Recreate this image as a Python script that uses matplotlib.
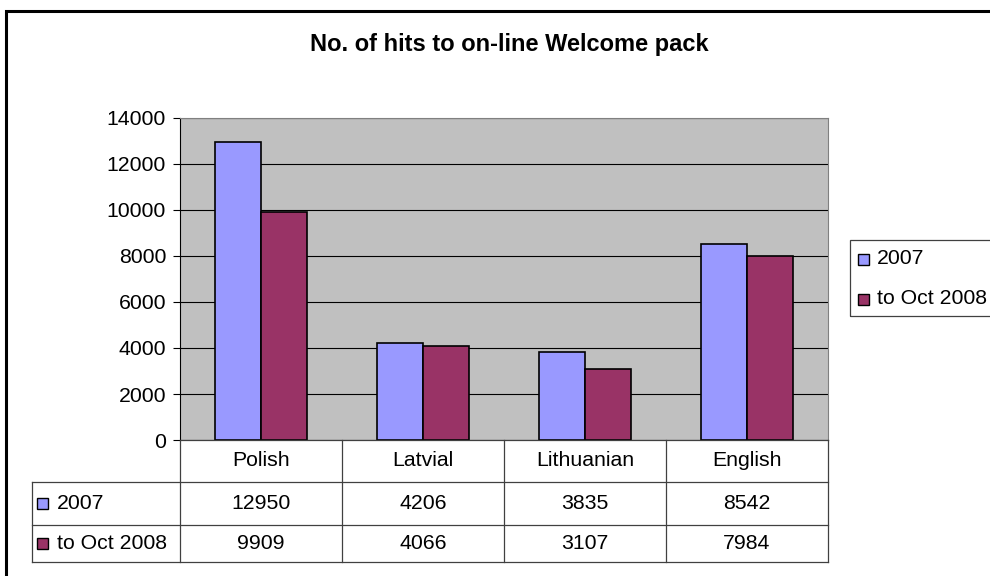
import numpy as np
import matplotlib.pyplot as plt
from matplotlib.patches import Rectangle
from matplotlib.lines import Line2D

plt.rcParams['font.family'] = ['Liberation Sans', 'DejaVu Sans']

categories = ['Polish', 'Latvial', 'Lithuanian', 'English']
series_names = ['2007', 'to Oct 2008']
hits_2007 = [12950, 4206, 3835, 8542]
hits_2008 = [9909, 4066, 3107, 7984]
colors = ['#9999FF', '#993366']

W, H = 990, 576
FS = 15.3


def fx(px):
    return px / W


def fy(py):
    return 1 - py / H


fig = plt.figure(figsize=(9.9, 5.76), dpi=100)

# outer chart frame (cut off at right and bottom like the original)
fig.patches.append(Rectangle((fx(6), fy(600)), fx(1000), fy(11) - fy(600),
                             transform=fig.transFigure, fill=False,
                             edgecolor='black', linewidth=2.2))

fig.text(fx(509), fy(45), 'No. of hits to on-line Welcome pack',
         ha='center', va='center', fontsize=17, fontweight='bold')

# plot area
left, right, top, bottom = 180, 828, 118, 440
ax = fig.add_axes([fx(left), fy(bottom), fx(right - left), fy(top) - fy(bottom)])
ax.set_facecolor('#C0C0C0')

x = np.arange(len(categories))
bw = 0.284
ax.bar(x - bw / 2, hits_2007, bw, color=colors[0], edgecolor='black', linewidth=1.2, zorder=3)
ax.bar(x + bw / 2, hits_2008, bw, color=colors[1], edgecolor='black', linewidth=1.2, zorder=3)

ax.set_xlim(-0.5, len(categories) - 0.5)
ax.set_ylim(0, 14000)
ax.set_yticks(np.arange(0, 14001, 2000))
ax.yaxis.grid(True, color='black', linewidth=0.8, zorder=0)
ax.set_axisbelow(True)
ax.set_xticks([])
ax.tick_params(axis='y', labelsize=FS, length=5, width=0.8, pad=5)
for s in ['top', 'right']:
    ax.spines[s].set_color('#808080')
ax.spines['left'].set_color('black')
ax.spines['bottom'].set_visible(False)

# data table
col_edges = [left + i * (right - left) / len(categories) for i in range(len(categories) + 1)]
row_edges = [440, 482, 525, 562]
tleft = 32
lc = '#404040'
lines = []
for xe in col_edges:
    lines.append(([xe, xe], [row_edges[0], row_edges[-1]]))
lines.append(([tleft, tleft], [row_edges[1], row_edges[-1]]))
lines.append(([left, right], [row_edges[0], row_edges[0]]))
for ye in row_edges[1:]:
    lines.append(([tleft, right], [ye, ye]))
for xs, ys in lines:
    fig.add_artist(Line2D([fx(v) for v in xs], [fy(v) for v in ys],
                          color=lc, linewidth=0.9, transform=fig.transFigure))

for i, cat in enumerate(categories):
    cx = (col_edges[i] + col_edges[i + 1]) / 2
    fig.text(fx(cx), fy((row_edges[0] + row_edges[1]) / 2), cat,
             ha='center', va='center', fontsize=FS)

for r, (name, vals) in enumerate(zip(series_names, [hits_2007, hits_2008])):
    cy = (row_edges[r + 1] + row_edges[r + 2]) / 2
    fig.patches.append(Rectangle((fx(37), fy(cy + 5.5)), fx(11), fy(cy - 5.5) - fy(cy + 5.5),
                                 transform=fig.transFigure, facecolor=colors[r],
                                 edgecolor='black', linewidth=1.0))
    fig.text(fx(57), fy(cy), name, ha='left', va='center', fontsize=FS)
    for i, v in enumerate(vals):
        cx = (col_edges[i] + col_edges[i + 1]) / 2
        fig.text(fx(cx), fy(cy), str(v), ha='center', va='center', fontsize=FS)

# legend box
fig.patches.append(Rectangle((fx(850), fy(316)), fx(150), fy(240) - fy(316),
                             transform=fig.transFigure, fill=False,
                             edgecolor='#404040', linewidth=0.9))
for r, name in enumerate(series_names):
    cy = 259 + r * 40
    fig.patches.append(Rectangle((fx(858), fy(cy + 5.5)), fx(11), fy(cy - 5.5) - fy(cy + 5.5),
                                 transform=fig.transFigure, facecolor=colors[r],
                                 edgecolor='black', linewidth=1.0))
    fig.text(fx(877), fy(cy), name, ha='left', va='center', fontsize=FS)

fig.savefig('out.png', dpi=100)
